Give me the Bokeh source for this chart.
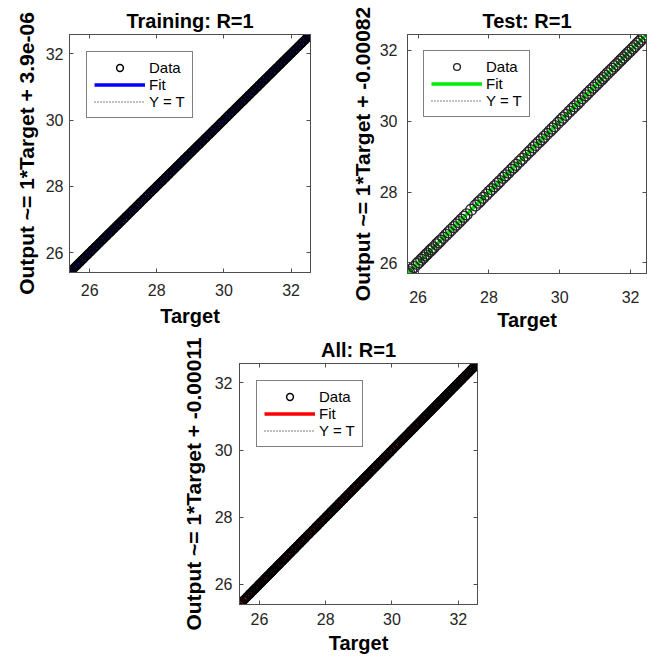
from bokeh.plotting import figure
from bokeh.models import (Legend, LegendItem, FixedTicker, LinearAxis, Range1d, Spacer)
from bokeh.layouts import row, column
from bokeh.embed import file_html
from bokeh.resources import INLINE

# ---------------- data ----------------
tick_values = [26, 28, 30, 32]

train_target = [
    25.40, 25.43, 25.47, 25.52, 25.56, 25.61, 25.64, 25.69, 25.73, 25.78,
    25.82, 25.86, 25.91, 25.95, 25.99, 26.04, 26.08, 26.13, 26.17, 26.21,
    26.26, 26.30, 26.35, 26.39, 26.43, 26.48, 26.52, 26.57, 26.61, 26.65,
    26.70, 26.74, 26.79, 26.83, 26.87, 26.92, 26.96, 27.01, 27.05, 27.09,
    27.14, 27.18, 27.23, 27.27, 27.31, 27.36, 27.40, 27.45, 27.49, 27.53,
    27.58, 27.62, 27.67, 27.71, 27.75, 27.80, 27.84, 27.89, 27.93, 27.97,
    28.02, 28.06, 28.11, 28.15, 28.19, 28.24, 28.28, 28.33, 28.37, 28.41,
    28.46, 28.50, 28.55, 28.59, 28.63, 28.68, 28.72, 28.77, 28.81, 28.85,
    28.90, 28.94, 28.99, 29.03, 29.07, 29.12, 29.16, 29.21, 29.25, 29.29,
    29.34, 29.38, 29.43, 29.47, 29.51, 29.56, 29.60, 29.65, 29.69, 29.73,
    29.78, 29.82, 29.87, 29.91, 29.95, 30.00, 30.04, 30.09, 30.13, 30.17,
    30.22, 30.26, 30.31, 30.35, 30.39, 30.44, 30.48, 30.53, 30.57, 30.61,
    30.66, 30.70, 30.75, 30.79, 30.83, 30.88, 30.92, 30.97, 31.01, 31.05,
    31.10, 31.14, 31.19, 31.23, 31.27, 31.32, 31.36, 31.41, 31.45, 31.49,
    31.54, 31.58, 31.63, 31.67, 31.71, 31.76, 31.80, 31.85, 31.89, 31.93,
    31.98, 32.02, 32.07, 32.11, 32.15, 32.20, 32.24, 32.29, 32.33, 32.37,
    32.42, 32.46, 32.51, 32.55, 32.58,
]
train_output = list(train_target)          # R = 1

test_target = [
    25.70, 25.74, 25.81, 25.88, 25.97, 26.02, 26.09, 26.15, 26.21, 26.26,
    26.33, 26.38, 26.44, 26.52, 26.58, 26.63, 26.71, 26.79, 26.86, 26.93,
    27.01, 27.08, 27.15, 27.22, 27.30, 27.37, 27.50, 27.62, 27.70, 27.76,
    27.84, 27.93, 28.01, 28.08, 28.16, 28.24, 28.31, 28.40, 28.47, 28.55,
    28.63, 28.70, 28.77, 28.86, 28.94, 29.03, 29.11, 29.18, 29.26, 29.33,
    29.41, 29.49, 29.56, 29.64, 29.72, 29.79, 29.86, 29.95, 30.03, 30.10,
    30.18, 30.27, 30.35, 30.42, 30.50, 30.57, 30.65, 30.73, 30.80, 30.87,
    30.95, 31.02, 31.09, 31.16, 31.22, 31.28, 31.35, 31.42, 31.48, 31.55,
    31.61, 31.68, 31.74, 31.80, 31.87, 31.93, 31.99, 32.06, 32.12, 32.19,
    32.25, 32.31, 32.38, 32.45,
]
test_output = list(test_target)            # R = 1

all_target = train_target + test_target
all_output = train_output + test_output

# fit coefficients (slope, intercept)
train_fit = [1.0, 3.9e-06]
test_fit = [1.0, -0.00082]
all_fit = [1.0, -0.00011]

FONT = "Liberation Sans"
AX_COLOR = "#4d4d4d"
TXT_COLOR = "#262626"


def make_panel(title, ylabel, target, output, fit, fit_color,
               frame_w, frame_h, b_left, b_right, b_top, b_bottom,
               ytick_standoff, ylab_standoff, xtick_standoff, xlab_standoff,
               legend_margin, marker_size, marker_lw, marker_color):
    lo = min(min(target), min(output))
    hi = max(max(target), max(output))
    p = figure(frame_width=frame_w, frame_height=frame_h,
               min_border_left=b_left, min_border_right=b_right,
               min_border_top=b_top, min_border_bottom=b_bottom,
               x_range=Range1d(lo, hi), y_range=Range1d(lo, hi),
               output_backend="svg", toolbar_location=None, tools="")
    p.grid.visible = False
    p.outline_line_color = AX_COLOR
    p.outline_line_width = 1
    p.outline_line_alpha = 1
    p.background_fill_color = "white"
    p.border_fill_color = "white"

    p.title.text = title
    p.title.align = "center"
    p.title.text_font = FONT
    p.title.text_font_size = "20px"
    p.title.text_font_style = "bold"
    p.title.text_color = "#000000"
    p.title.standoff = 5

    ticker = FixedTicker(ticks=tick_values)
    for ax, st, lst in ((p.xaxis[0], xtick_standoff, xlab_standoff),
                        (p.yaxis[0], ytick_standoff, ylab_standoff)):
        ax.ticker = ticker
        ax.major_tick_in = 4
        ax.major_tick_out = 0
        ax.minor_tick_in = 0
        ax.minor_tick_out = 0
        ax.axis_line_color = AX_COLOR
        ax.major_tick_line_color = AX_COLOR
        ax.major_label_text_font = FONT
        ax.major_label_text_font_size = "16px"
        ax.major_label_text_color = TXT_COLOR
        ax.major_label_standoff = st
        ax.axis_label_text_font = FONT
        ax.axis_label_text_font_style = "bold"
        ax.axis_label_text_color = "#000000"
        ax.axis_label_standoff = lst
    p.xaxis.axis_label = "Target"
    p.xaxis.axis_label_text_font_size = "20px"
    p.yaxis.axis_label = ylabel
    p.yaxis.axis_label_text_font_size = "21px"

    # box ticks on the top and right sides (no labels)
    for side in ("right", "above"):
        ax = LinearAxis(ticker=ticker, major_tick_in=4, major_tick_out=0,
                        minor_tick_in=0, minor_tick_out=0,
                        major_label_text_font_size="1px",
                        major_label_text_color=None,
                        major_label_standoff=0,
                        axis_line_color=AX_COLOR,
                        major_tick_line_color=AX_COLOR)
        p.add_layout(ax, side)

    xs = [lo, hi]
    yt = p.line(xs, xs, line_color="black", line_width=1, line_dash="1 2")
    fy = [fit[0] * lo + fit[1], fit[0] * hi + fit[1]]
    fl = p.line(xs, fy, line_color=fit_color, line_width=3.5)
    dt = p.scatter(target, output, marker="circle", size=marker_size,
                   fill_color=None, line_color=marker_color,
                   line_width=marker_lw)

    leg = Legend(items=[LegendItem(label="Data", renderers=[dt]),
                        LegendItem(label="Fit", renderers=[fl]),
                        LegendItem(label="Y = T", renderers=[yt])],
                 location="top_left", margin=legend_margin,
                 padding=7, spacing=0, glyph_width=51, glyph_height=17,
                 label_height=17, label_standoff=4,
                 label_text_font=FONT, label_text_font_size="15px",
                 label_text_color="#000000",
                 border_line_color="black", border_line_width=1,
                 background_fill_color="white", background_fill_alpha=1)
    p.add_layout(leg, "center")
    return p


p1 = make_panel("Training: R=1", "Output ~= 1*Target + 3.9e-06",
                train_target, train_output, train_fit, "#0000ff",
                241, 238, 69, 18, 32, 62,
                6, 5, 11, 6, 17, 8, 1.5, "black")
p2 = make_panel("Test: R=1", "Output ~= 1*Target + -0.00082",
                test_target, test_output, test_fit, "#00ee00",
                239, 239, 79, 10, 34, 59,
                10, 3, 17, 3, 16, 11, 1.3, "#222222")
p3 = make_panel("All: R=1", "Output ~= 1*Target + -0.00011",
                all_target, all_output, all_fit, "#ff0000",
                238, 241, 81, 20, 30, 54,
                7, 7, 8, 4, 17, 8, 1.5, "black")

layout = column(row(p1, p2), row(Spacer(width=158, height=10), p3))

open("out.html", "w").write(file_html(layout, INLINE))
